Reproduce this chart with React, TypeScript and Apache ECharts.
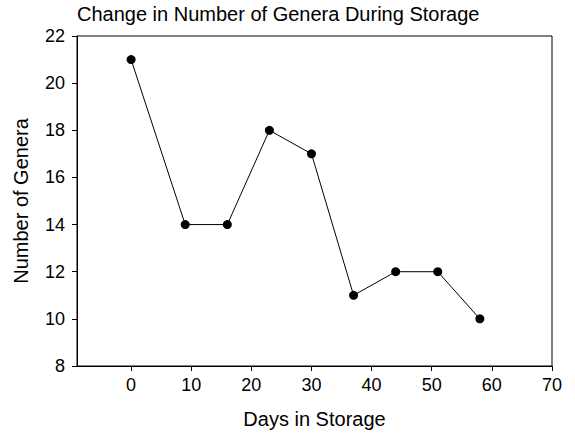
import React, { useEffect, useRef } from "react";
import * as echarts from "echarts";

const days = [0, 9, 16, 23, 30, 37, 44, 51, 58];
const genera = [21, 14, 14, 18, 17, 11, 12, 12, 10];
const xTicks = [0, 10, 20, 30, 40, 50, 60, 70];

export default function App() {
  const ref = useRef<HTMLDivElement>(null);
  useEffect(() => {
    const chart = echarts.init(ref.current!, null, { renderer: "svg" });
    const font = "Liberation Sans, Arial, sans-serif";
    chart.setOption({
      animation: false,
      backgroundColor: "#fff",
      title: {
        text: "Change in Number of Genera During Storage",
        left: 77,
        top: 3,
        padding: 0,
        textStyle: { fontFamily: font, fontSize: 20, fontWeight: "normal", color: "#000", lineHeight: 22 },
      },
      grid: {
        left: 77,
        right: 23,
        top: 36,
        bottom: 68,
        show: true,
        borderColor: "#000",
        borderWidth: 1,
        backgroundColor: "transparent",
      },
      xAxis: {
        type: "value",
        min: -9,
        max: 70,
        name: "Days in Storage",
        nameLocation: "middle",
        nameGap: 43,
        nameTextStyle: { fontFamily: font, fontSize: 20, color: "#000" },
        axisLine: { show: true, onZero: false, lineStyle: { color: "#000", width: 1 } },
        axisTick: { show: true, inside: false, length: 5, customValues: xTicks, lineStyle: { color: "#000" } },
        axisLabel: { customValues: xTicks, fontFamily: font, fontSize: 18, color: "#000", margin: 10 },
        splitLine: { show: false },
      },
      yAxis: {
        type: "value",
        min: 8,
        max: 22,
        interval: 2,
        name: "Number of Genera",
        nameLocation: "middle",
        nameGap: 46,
        nameTextStyle: { fontFamily: font, fontSize: 20, color: "#000" },
        axisLine: { show: true, onZero: false, lineStyle: { color: "#000", width: 1 } },
        axisTick: { show: true, inside: false, length: 5, lineStyle: { color: "#000" } },
        axisLabel: { fontFamily: font, fontSize: 18, color: "#000", margin: 12 },
        splitLine: { show: false },
      },
      series: [
        {
          type: "line",
          data: days.map((d, i) => [d, genera[i]]),
          symbol: "circle",
          symbolSize: 9,
          itemStyle: { color: "#000" },
          lineStyle: { color: "#000", width: 1 },
        },
      ],
    });
    return () => chart.dispose();
  }, []);
  return <div ref={ref} style={{ width: 575, height: 434, position: "absolute", left: 0, top: 0 }} />;
}
